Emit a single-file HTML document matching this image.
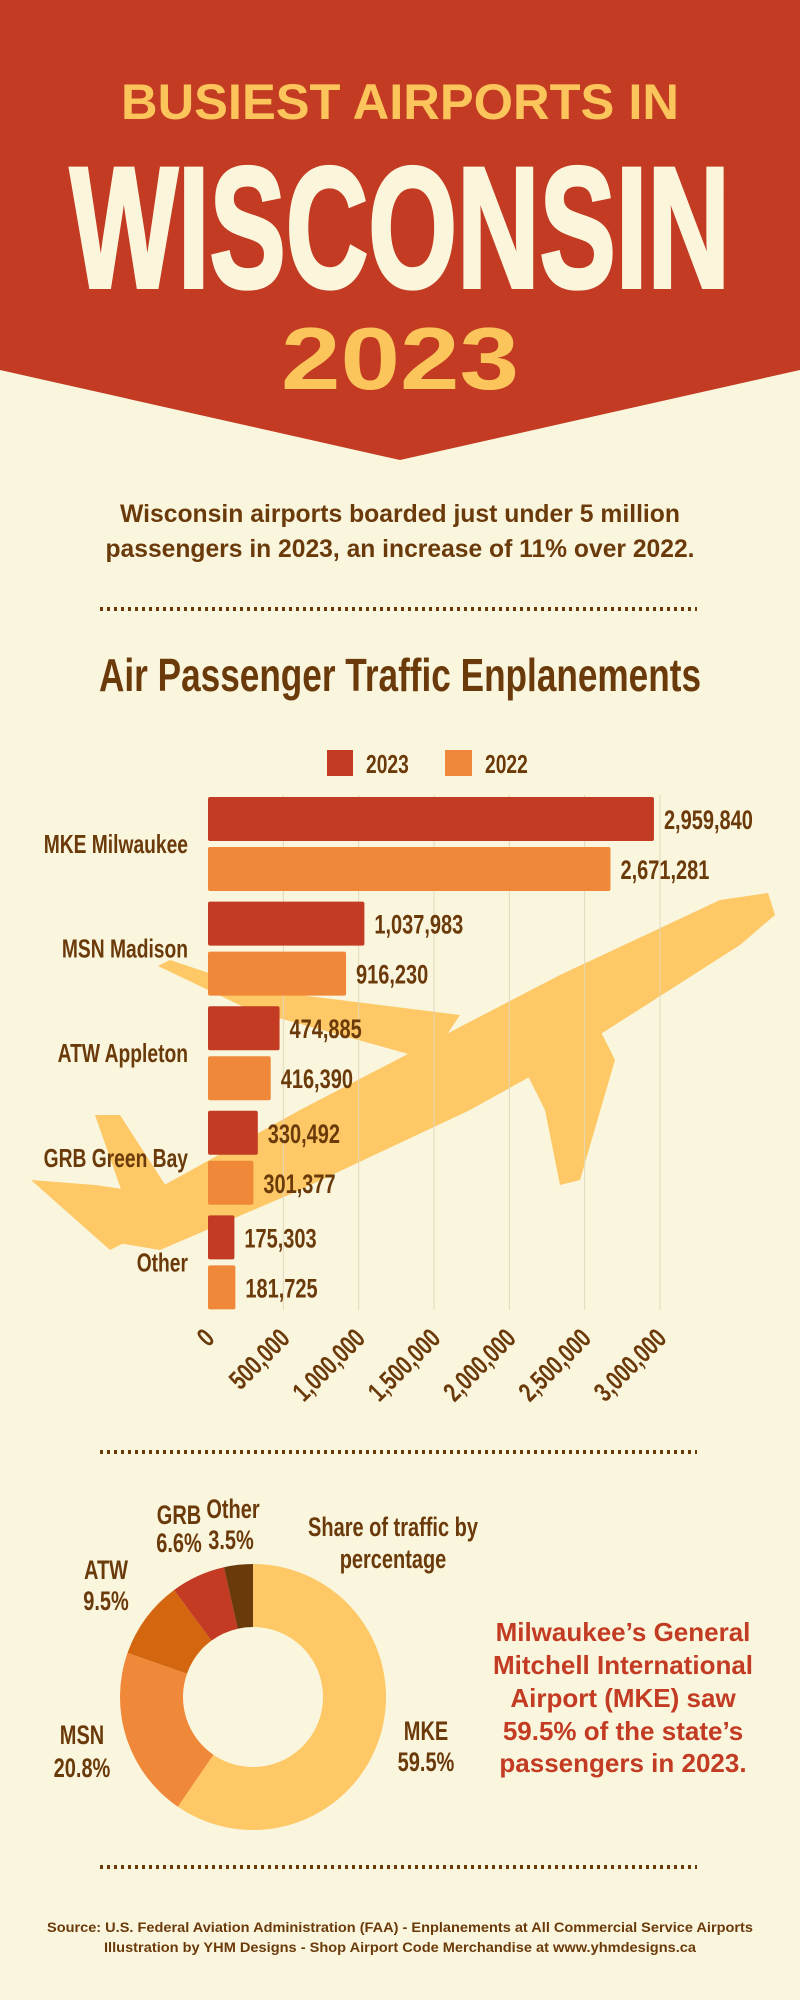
<!DOCTYPE html>
<html><head><meta charset="utf-8"><style>
body{margin:0;background:#FAF6DE}
svg{display:block}
.nar{font-family:"Liberation Sans Narrow","Liberation Sans",sans-serif;font-weight:bold}
.sans{font-family:"Liberation Sans",sans-serif;font-weight:bold}
</style></head><body>
<svg id="root" width="800" height="2000" viewBox="0 0 800 2000">
<rect width="800" height="2000" fill="#FAF6DE"/>
<polygon points="0,0 800,0 800,370 400,460 0,370" fill="#C23B22"/>
<text x="400" y="119" text-anchor="middle" class="sans" font-size="50" fill="#FBC55B" textLength="558" lengthAdjust="spacingAndGlyphs">BUSIEST AIRPORTS IN</text>
<text x="400" y="287" text-anchor="middle" class="sans" font-size="172" fill="#FBF5DC" stroke="#FBF5DC" stroke-width="4" textLength="660" lengthAdjust="spacingAndGlyphs">WISCONSIN</text>
<text x="400" y="389" text-anchor="middle" class="sans" font-size="88" fill="#FBC55B" textLength="238" lengthAdjust="spacingAndGlyphs">2023</text>
<text x="400" y="522" text-anchor="middle" class="sans" font-size="25" fill="#6B3A0A" textLength="560" lengthAdjust="spacingAndGlyphs">Wisconsin airports boarded just under 5 million</text>
<text x="400" y="557" text-anchor="middle" class="sans" font-size="25" fill="#6B3A0A" textLength="589" lengthAdjust="spacingAndGlyphs">passengers in 2023, an increase of 11% over 2022.</text>
<line x1="100" y1="609" x2="697" y2="609" stroke="#6B3A0A" stroke-width="4" stroke-dasharray="3,4"/>
<text x="400" y="691" text-anchor="middle" class="nar fixed" font-size="46" fill="#6B3A0A" textLength="602" lengthAdjust="spacingAndGlyphs">Air Passenger Traffic Enplanements</text>
<g>
<rect x="327" y="750" width="26" height="26" fill="#C23B22"/>
<text x="366" y="773" class="nar" font-size="26" fill="#6B3A0A">2023</text>
<rect x="445" y="750" width="27" height="26" fill="#F0883A"/>
<text x="485" y="773" class="nar" font-size="26" fill="#6B3A0A">2022</text>
</g>
<g fill="#FDC865">
<polygon points="768,893 775,915 740,945 560,1060 470,1110 300,1190 160,1250 100,1240 110,1215 300,1110 560,975 720,900"/>
<polygon points="158,966 170,960 260,990 460,1015 430,1060 250,1010"/>
<polygon points="520,1060 600,1030 615,1060 580,1180 560,1185 545,1110"/>
<polygon points="31,1180 95,1185 130,1190 150,1230 110,1250"/>
<polygon points="95,1115 120,1115 175,1200 130,1215"/>
</g>
<g id="bars"></g>
<line x1="100" y1="1452" x2="697" y2="1452" stroke="#6B3A0A" stroke-width="4" stroke-dasharray="3,4"/>
<g id="donut"></g>
<g class="nar" fill="#6B3A0A" font-size="27" text-anchor="middle">
<text class="nar" x="179" y="1524">GRB</text>
<text class="nar" x="179" y="1552">6.6%</text>
<text class="nar" x="233" y="1518">Other</text>
<text class="nar" x="231" y="1549">3.5%</text>
<text class="nar" x="393" y="1536">Share of traffic by</text>
<text class="nar" x="393" y="1568">percentage</text>
<text class="nar" x="106" y="1579">ATW</text>
<text class="nar" x="106" y="1610">9.5%</text>
<text class="nar" x="82" y="1744">MSN</text>
<text class="nar" x="82" y="1777">20.8%</text>
<text class="nar" x="426" y="1740">MKE</text>
<text class="nar" x="426" y="1771">59.5%</text>
</g>
<g class="sans" fill="#C23B22" font-size="26" text-anchor="middle">
<text x="623" y="1641">Milwaukee’s General</text>
<text x="623" y="1674">Mitchell International</text>
<text x="623" y="1707">Airport (MKE) saw</text>
<text x="623" y="1740">59.5% of the state’s</text>
<text x="623" y="1772">passengers in 2023.</text>
</g>
<line x1="100" y1="1867" x2="697" y2="1867" stroke="#6B3A0A" stroke-width="4" stroke-dasharray="3,4"/>
<text x="400" y="1932" text-anchor="middle" class="sans" font-size="14" fill="#6B3A0A" textLength="706" lengthAdjust="spacingAndGlyphs">Source: U.S. Federal Aviation Administration (FAA) - Enplanements at All Commercial Service Airports</text>
<text x="400" y="1952" text-anchor="middle" class="sans" font-size="14" fill="#6B3A0A" textLength="592" lengthAdjust="spacingAndGlyphs">Illustration by YHM Designs - Shop Airport Code Merchandise at www.yhmdesigns.ca</text>
</svg>
<script>
const categories = ["MKE Milwaukee","MSN Madison","ATW Appleton","GRB Green Bay","Other"];
const values2023 = [2959840,1037983,474885,330492,175303];
const values2022 = [2671281,916230,416390,301377,181725];
const ticks = [0,500000,1000000,1500000,2000000,2500000,3000000];
const shareLabels = ["MKE","MSN","ATW","GRB","Other"];
const shareValues = [59.5,20.8,9.5,6.6,3.5];

const NS = "http://www.w3.org/2000/svg";
function mk(tag, attrs, parent){const e=document.createElementNS(NS,tag);for(const k in attrs)e.setAttribute(k,attrs[k]);parent.appendChild(e);return e;}
const x0=208, xMax=3000000, xW=452;
const xs=v=>x0+v/xMax*xW;
const top0=797, pitch=104.6, bh=44, gap=6;
const bars=document.getElementById('bars');
ticks.forEach(t=>{
  if(t>0){const l=mk('line',{x1:xs(t),x2:xs(t),y1:795,y2:1310,stroke:'#E2D8B8','stroke-width':1},bars);
  
  }
  const tx=mk('text',{x:0,y:0,transform:`translate(${xs(t)+8},${1340}) rotate(-45)`,'text-anchor':'end','class':'nar','font-size':27,fill:'#6B3A0A'},bars);
  tx.textContent=t.toLocaleString('en-US');
  
  
});
categories.forEach((c,i)=>{
  const y=top0+i*pitch;
  const lb=mk('text',{x:188,y:y+bh+gap/2+9,'text-anchor':'end','class':'nar','font-size':26,fill:'#6B3A0A'},bars);
  lb.textContent=c;
  
  
  [[values2023[i],'#C23B22',y,'bar-2023'],[values2022[i],'#F0883A',y+bh+gap,'bar-2022']].forEach(([v,col,yy,nm])=>{
    const r=mk('rect',{x:x0,y:yy,width:xs(v)-x0,height:bh,fill:col,rx:2},bars);
    
    
    const t=mk('text',{x:xs(v)+10,y:yy+bh/2+10,'class':'nar','font-size':27,fill:'#6B3A0A'},bars);
    t.textContent=v.toLocaleString('en-US');
    
    
  });
});
const donut=document.getElementById('donut');
const cols=['#FDC865','#F0883A','#D4660F','#C23B22','#6B3A0A'];
const cx=253, cy=1697, R=133, r=70;
const tot=shareValues.reduce((a,b)=>a+b,0);
let a0=-Math.PI/2;
shareValues.forEach((v,i)=>{
  const a1=a0+v/tot*2*Math.PI, lg=(a1-a0)>Math.PI?1:0;
  const p=(rr,a)=>`${cx+rr*Math.cos(a)},${cy+rr*Math.sin(a)}`;
  const d=`M${p(R,a0)} A${R},${R} 0 ${lg} 1 ${p(R,a1)} L${p(r,a1)} A${r},${r} 0 ${lg} 0 ${p(r,a0)} Z`;
  const s=mk('path',{d:d,fill:cols[i]},donut);
  
  
  a0=a1;
});
// emulate condensed font if narrow face isn't installed
document.querySelectorAll('text.nar').forEach(t=>{
  if(t.classList.contains('fixed')) return;
  const L=t.getComputedTextLength();
  if(L>0){t.setAttribute('textLength',(L*0.74).toFixed(1));t.setAttribute('lengthAdjust','spacingAndGlyphs');}
});
</script>
</body></html>
